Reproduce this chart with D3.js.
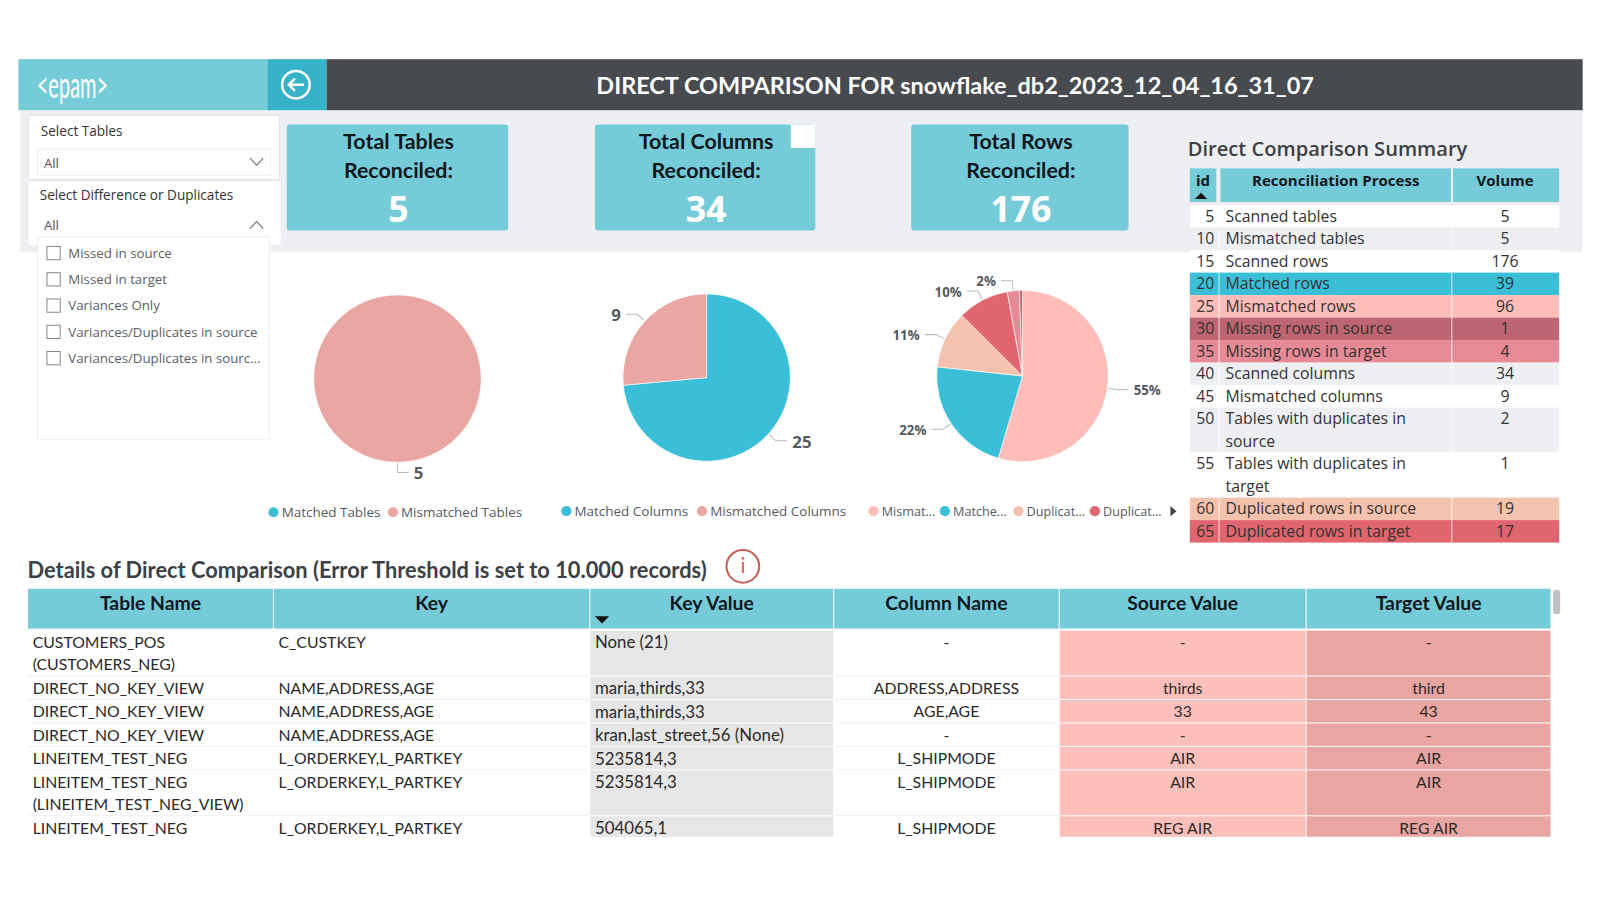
<!DOCTYPE html>
<html>

<head>
    <meta charset="utf-8" />
    <title>Direct Comparison</title>
    <style>
        body { margin: 0; background: #fff; }
        svg { display: block; }
        text { font-family: "Open Sans", sans-serif; }
        .narrow text, text.narrow { font-family: Lato, sans-serif; }
    </style>
</head>

<body>
    <svg id="chart" width="1600" height="900" viewBox="0 0 1568 882"></svg>
</body>

<script src="https://cdn.jsdelivr.net/npm/d3@7"></script>
<script>
    var pageTitle = 'DIRECT COMPARISON FOR snowflake_db2_2023_12_04_16_31_07';
    var kpiLines = [['Total Tables', 'Reconciled:'], ['Total Columns', 'Reconciled:'], ['Total Rows', 'Reconciled:']];
    var kpiValues = [5, 34, 176];

    var slicerOptions = ['Missed in source', 'Missed in target', 'Variances Only',
        'Variances/Duplicates in source', 'Variances/Duplicates in sourc...'];

    var tableCategories = ['Matched Tables', 'Mismatched Tables'];
    var tableValues = [0, 5];
    var columnCategories = ['Matched Columns', 'Mismatched Columns'];
    var columnValues = [25, 9];
    var rowCategories = ['Mismatched rows', 'Matched rows', 'Duplicated rows in source',
        'Duplicated rows in target', 'Missing rows in target', 'Missing rows in source'];
    var rowValues = [96, 39, 19, 17, 4, 1];
    var rowLegend = ['Mismat...', 'Matche...', 'Duplicat...', 'Duplicat...'];

    var summaryIds = [5, 10, 15, 20, 25, 30, 35, 40, 45, 50, 55, 60, 65];
    var summaryProcesses = ['Scanned tables', 'Mismatched tables', 'Scanned rows', 'Matched rows',
        'Mismatched rows', 'Missing rows in source', 'Missing rows in target', 'Scanned columns',
        'Mismatched columns', 'Tables with duplicates in\nsource', 'Tables with duplicates in\ntarget',
        'Duplicated rows in source', 'Duplicated rows in target'];
    var summaryVolumes = [5, 5, 176, 39, 96, 1, 4, 34, 9, 2, 1, 19, 17];

    var detailHeaders = ['Table Name', 'Key', 'Key Value', 'Column Name', 'Source Value', 'Target Value'];
    var detailTables = ['CUSTOMERS_POS\n(CUSTOMERS_NEG)', 'DIRECT_NO_KEY_VIEW', 'DIRECT_NO_KEY_VIEW',
        'DIRECT_NO_KEY_VIEW', 'LINEITEM_TEST_NEG', 'LINEITEM_TEST_NEG\n(LINEITEM_TEST_NEG_VIEW)', 'LINEITEM_TEST_NEG'];
    var detailKeys = ['C_CUSTKEY', 'NAME,ADDRESS,AGE', 'NAME,ADDRESS,AGE', 'NAME,ADDRESS,AGE',
        'L_ORDERKEY,L_PARTKEY', 'L_ORDERKEY,L_PARTKEY', 'L_ORDERKEY,L_PARTKEY'];
    var detailKeyValues = ['None (21)', 'maria,thirds,33', 'maria,thirds,33', 'kran,last_street,56 (None)',
        '5235814,3', '5235814,3', '504065,1'];
    var detailColumns = ['-', 'ADDRESS,ADDRESS', 'AGE,AGE', '-', 'L_SHIPMODE', 'L_SHIPMODE', 'L_SHIPMODE'];
    var detailSources = ['-', 'thirds', '33', '-', 'AIR', 'AIR', 'REG AIR'];
    var detailTargets = ['-', 'third', '43', '-', 'AIR', 'AIR', 'REG AIR'];

    // colours
    var teal = '#76CBD9', cyan = '#3BBFD8', ink = '#3C4146', grey = '#555A5F';
    var tableColor = d3.scaleOrdinal(tableCategories, [cyan, '#E9A6A3']);
    var columnColor = d3.scaleOrdinal(columnCategories, [cyan, '#E9A6A3']);
    var rowColor = d3.scaleOrdinal(rowCategories, ['#FFBDB9', cyan, '#F4C2AD', '#E0656F', '#E68A95', '#BD6570']);
    var summaryFill = d3.scaleOrdinal(summaryIds, ['#fff', '#EEEFF3', '#fff', cyan, '#FFBDB9', '#BD6570', '#E68A95',
        '#EEEFF3', '#fff', '#EEEFF3', '#fff', '#F4C2AD', '#E0656F']);

    var svg = d3.select('#chart');

    function label(parent, x, y, txt, size, opts) {
        opts = opts || {};
        return parent.append('text')
            .attr('x', x).attr('y', y)
            .attr('dy', '0.35em')
            .attr('text-anchor', opts.anchor || 'start')
            .attr('font-size', size)
            .attr('font-weight', opts.weight || 400)
            .attr('fill', opts.fill || ink)
            .attr('class', opts.cls || null)
            .text(txt);
    }

    function rect(parent, x, y, w, h, fill, stroke) {
        return parent.append('rect')
            .attr('x', x).attr('y', y).attr('width', w).attr('height', h)
            .attr('fill', fill).attr('stroke', stroke || 'none');
    }

    // backdrop and top bar
    rect(svg, 20, 108, 1531, 139, '#EEEFF3');
    rect(svg, 18, 58, 244, 50, teal);
    rect(svg, 262, 58, 58, 50, '#37B3C9');
    rect(svg, 320, 58, 1231, 50, '#474B50');
    label(svg, 71, 84, '<epam>', 35, { anchor: 'middle', fill: '#fff', cls: 'narrow' })
        .attr('textLength', 70).attr('lengthAdjust', 'spacingAndGlyphs');
    label(svg, 936, 84, pageTitle, 23, { anchor: 'middle', fill: '#fff', weight: 700, cls: 'narrow' });

    var back = svg.append('g').attr('transform', 'translate(290,83)')
        .attr('fill', 'none').attr('stroke', '#fff').attr('stroke-width', 2.4);
    back.append('circle').attr('r', 13.5);
    back.append('path').attr('d', 'M8,0H-7M-1,-6L-7,0L-1,6');

    // slicers
    rect(svg, 28, 113, 246, 63, '#fff', '#E2E3E6');
    label(svg, 40, 129, 'Select Tables', 13.3, { fill: '#333' });
    rect(svg, 37, 146, 228, 26, '#fff', '#F0F0F2');
    label(svg, 43, 160, 'All', 13, { fill: '#555' });
    svg.append('path').attr('d', 'M245,155L251.5,162L258,155').attr('fill', 'none').attr('stroke', '#666');

    rect(svg, 28, 178, 247, 62, '#fff');
    label(svg, 39, 191, 'Select Difference or Duplicates', 13.3, { fill: '#333' });
    label(svg, 43, 221, 'All', 13, { fill: '#555' });
    svg.append('path').attr('d', 'M245,224L251.5,217L258,224').attr('fill', 'none').attr('stroke', '#666');
    rect(svg, 37, 232, 227, 199, '#fff', '#EFEFF2');

    var optionY = d3.scalePoint().domain(slicerOptions).range([248, 351]);
    slicerOptions.forEach(function (d) {
        rect(svg, 46, optionY(d) - 6.5, 13, 13, '#fff', '#888');
        label(svg, 67, optionY(d), d, 13, { fill: '#5A5F66' });
    });

    // KPI cards
    var cardX = [281, 583, 893], cardW = [217, 216, 213];
    kpiValues.forEach(function (v, i) {
        rect(svg, cardX[i], 122, cardW[i], 104, teal).attr('rx', 3);
        var cx = cardX[i] + cardW[i] / 2 + 1;
        label(svg, cx, 139, kpiLines[i][0], 21, { anchor: 'middle', weight: 700, fill: '#11181d', cls: 'narrow' });
        label(svg, cx, 167, kpiLines[i][1], 21, { anchor: 'middle', weight: 700, fill: '#11181d', cls: 'narrow' });
        label(svg, cx, 205.5, v, 35, { anchor: 'middle', weight: 700, fill: '#fff' });
    });
    rect(svg, 775, 122, 24, 23, '#fff');

    // pies
    function drawPie(cx, cy, r, categories, values, color, format, size) {
        var g = svg.append('g').attr('transform', 'translate(' + cx + ',' + cy + ')');
        var total = d3.sum(values);
        var arcs = d3.pie().sort(null).value(function (d) { return d.value; })(
            categories.map(function (c, i) { return { name: c, value: values[i] }; }));
        var arc = d3.arc().innerRadius(0).outerRadius(r);

        g.selectAll('path.slice')
            .data(arcs)
            .enter()
            .append('path')
            .attr('class', 'slice')
            .attr('d', arc)
            .attr('fill', function (d) { return color(d.data.name); })
            .attr('stroke', '#fff')
            .attr('stroke-width', 0.6);

        // leader lines, the smallest slice has no label
        arcs.filter(function (d) { return d.value / total >= 0.02; }).forEach(function (d) {
            var mid = (d.startAngle + d.endAngle) / 2;
            var sx = Math.sin(mid), sy = -Math.cos(mid);
            var side = sx >= 0 ? 1 : -1;
            var x2 = sx * (r + 10), y2 = sy * (r + 10);
            var x3 = x2 + side * 11;
            g.append('path')
                .attr('d', 'M' + sx * (r + 1) + ',' + sy * (r + 1) + 'L' + x2 + ',' + y2 + 'L' + x3 + ',' + y2)
                .attr('fill', 'none').attr('stroke', '#B9BBBE');
            label(g, x3 + side * 5, y2 + 1, format(d), size, {
                anchor: side > 0 ? 'start' : 'end', weight: 700, fill: grey
            });
        });
    }

    function count(d) { return d.value; }
    function percent(d) { return d3.format('.0%')(d.value / d3.sum(rowValues)); }
    drawPie(389.5, 371, 82, tableCategories, tableValues, tableColor, count, 16.5);
    drawPie(692.5, 370, 82, columnCategories, columnValues, columnColor, count, 16.5);
    drawPie(1002, 368.5, 84, rowCategories, rowValues, rowColor, percent, 13);

    // legends
    function legendItem(x, txt, fill, y, size) {
        svg.append('circle').attr('cx', x).attr('cy', y).attr('r', 5).attr('fill', fill);
        label(svg, x + 8, y, txt, size, { fill: grey });
    }
    legendItem(268, tableCategories[0], tableColor(tableCategories[0]), 502, 13.2);
    legendItem(385, tableCategories[1], tableColor(tableCategories[1]), 502, 13.2);
    legendItem(555, columnCategories[0], columnColor(columnCategories[0]), 501, 13.2);
    legendItem(688, columnCategories[1], columnColor(columnCategories[1]), 501, 13.2);
    var rowLegendX = [856, 926, 998, 1073];
    rowLegend.forEach(function (d, i) {
        legendItem(rowLegendX[i], d, rowColor(rowCategories[i]), 501, 12.4);
    });
    svg.append('path').attr('d', 'M1147,496L1153,501L1147,506Z').attr('fill', '#444');

    // summary table
    label(svg, 1164, 146, 'Direct Comparison Summary', 19.7, { weight: 600 });
    var sumCols = [[1166, 26], [1196, 226], [1424, 104]];
    sumCols.forEach(function (c) { rect(svg, c[0], 165, c[1], 33, teal); });
    label(svg, 1179, 177, 'id', 14.7, { anchor: 'middle', weight: 700, fill: '#11181d' });
    label(svg, 1309, 177, 'Reconciliation Process', 14.7, { anchor: 'middle', weight: 700, fill: '#11181d' });
    label(svg, 1475, 177, 'Volume', 14.7, { anchor: 'middle', weight: 700, fill: '#11181d' });
    svg.append('path').attr('d', 'M1171,195L1177,189L1183,195Z').attr('fill', '#111');

    var sumLine = 22.05;
    var sumTops = [201].concat(Array.from(d3.cumsum(summaryProcesses, function (d) {
        return d.split('\n').length * sumLine;
    }), function (h) { return 201 + h; }));

    summaryIds.forEach(function (id, i) {
        var lines = summaryProcesses[i].split('\n');
        var top = sumTops[i], h = lines.length * sumLine;
        rect(svg, 1166, top, 362, h, summaryFill(id));
        sumCols.slice(1).forEach(function (c) {
            rect(svg, c[0] - 2, top, 1.4, h, '#fff').attr('opacity', 0.55);
        });
        label(svg, 1190, top + 11, id, 15.5, { anchor: 'end', fill: '#333' });
        lines.forEach(function (t, j) {
            label(svg, 1201, top + 11 + j * sumLine, t, 15.5, { fill: '#333' });
        });
        label(svg, 1475, top + 11, summaryVolumes[i], 15.5, { anchor: 'middle', fill: '#333' });
    });

    // details table
    label(svg, 27, 559, 'Details of Direct Comparison (Error Threshold is set to 10.000 records)', 21.4, { weight: 700, cls: 'narrow' });
    svg.append('circle').attr('cx', 728).attr('cy', 555).attr('r', 16)
        .attr('fill', 'none').attr('stroke', '#C8605A').attr('stroke-width', 2);
    label(svg, 728, 555, 'i', 20, { anchor: 'middle', fill: '#C8605A', cls: 'narrow' });

    var detEdges = [27, 268, 578, 817, 1038, 1280, 1520];
    var detCols = detailHeaders.map(function (h, i) {
        return { head: h, x: detEdges[i], w: detEdges[i + 1] - detEdges[i] };
    });
    var detFills = ['#fff', '#fff', '#E6E6E6', '#fff', '#FDBFB9', '#E9A5A2'];
    var detSizes = [15.5, 15.5, 16.5, 15.5, 15.5, 15.5];
    var detValues = [detailTables, detailKeys, detailKeyValues, detailColumns, detailSources, detailTargets];

    var clip = svg.append('clipPath').attr('id', 'detClip');
    rect(clip, 27, 570, 1493, 250, '#000');
    var det = svg.append('g').attr('clip-path', 'url(#detClip)').attr('class', 'narrow');

    detCols.forEach(function (c) {
        rect(det, c.x + 0.5, 577, c.w - 1, 39, teal);
        label(det, c.x + c.w / 2, 591, c.head, 19, { anchor: 'middle', weight: 700, fill: '#11181d' });
    });
    det.append('path').attr('d', 'M583,604H597L590,611Z').attr('fill', '#111');

    var detLine = 22;
    var detTops = [618].concat(Array.from(d3.cumsum(detailTables, function (d) {
        return d.split('\n').length * detLine + 1;
    }), function (h) { return 618 + h; }));

    detailTables.forEach(function (t, i) {
        var top = detTops[i], h = detTops[i + 1] - top;
        detCols.forEach(function (c, k) {
            rect(det, c.x + 0.5, top, c.w - 1, h - 1, detFills[k]);
            detValues[k][i].split('\n').forEach(function (s, j) {
                var centred = k > 2;
                label(det, centred ? c.x + c.w / 2 : c.x + 5, top + 11.5 + j * detLine, s, detSizes[k], {
                    anchor: centred ? 'middle' : 'start', fill: '#2a2a2a'
                });
            });
        });
        det.append('line').attr('x1', 27).attr('x2', 578).attr('y1', top + h - 0.5).attr('y2', top + h - 0.5)
            .attr('stroke', '#EEEEF0');
        det.append('line').attr('x1', 817).attr('x2', 1038).attr('y1', top + h - 0.5).attr('y2', top + h - 0.5)
            .attr('stroke', '#EEEEF0');
    });

    rect(svg, 1522, 578, 7, 24, '#BDBFC3').attr('rx', 3);
</script>

</html>
